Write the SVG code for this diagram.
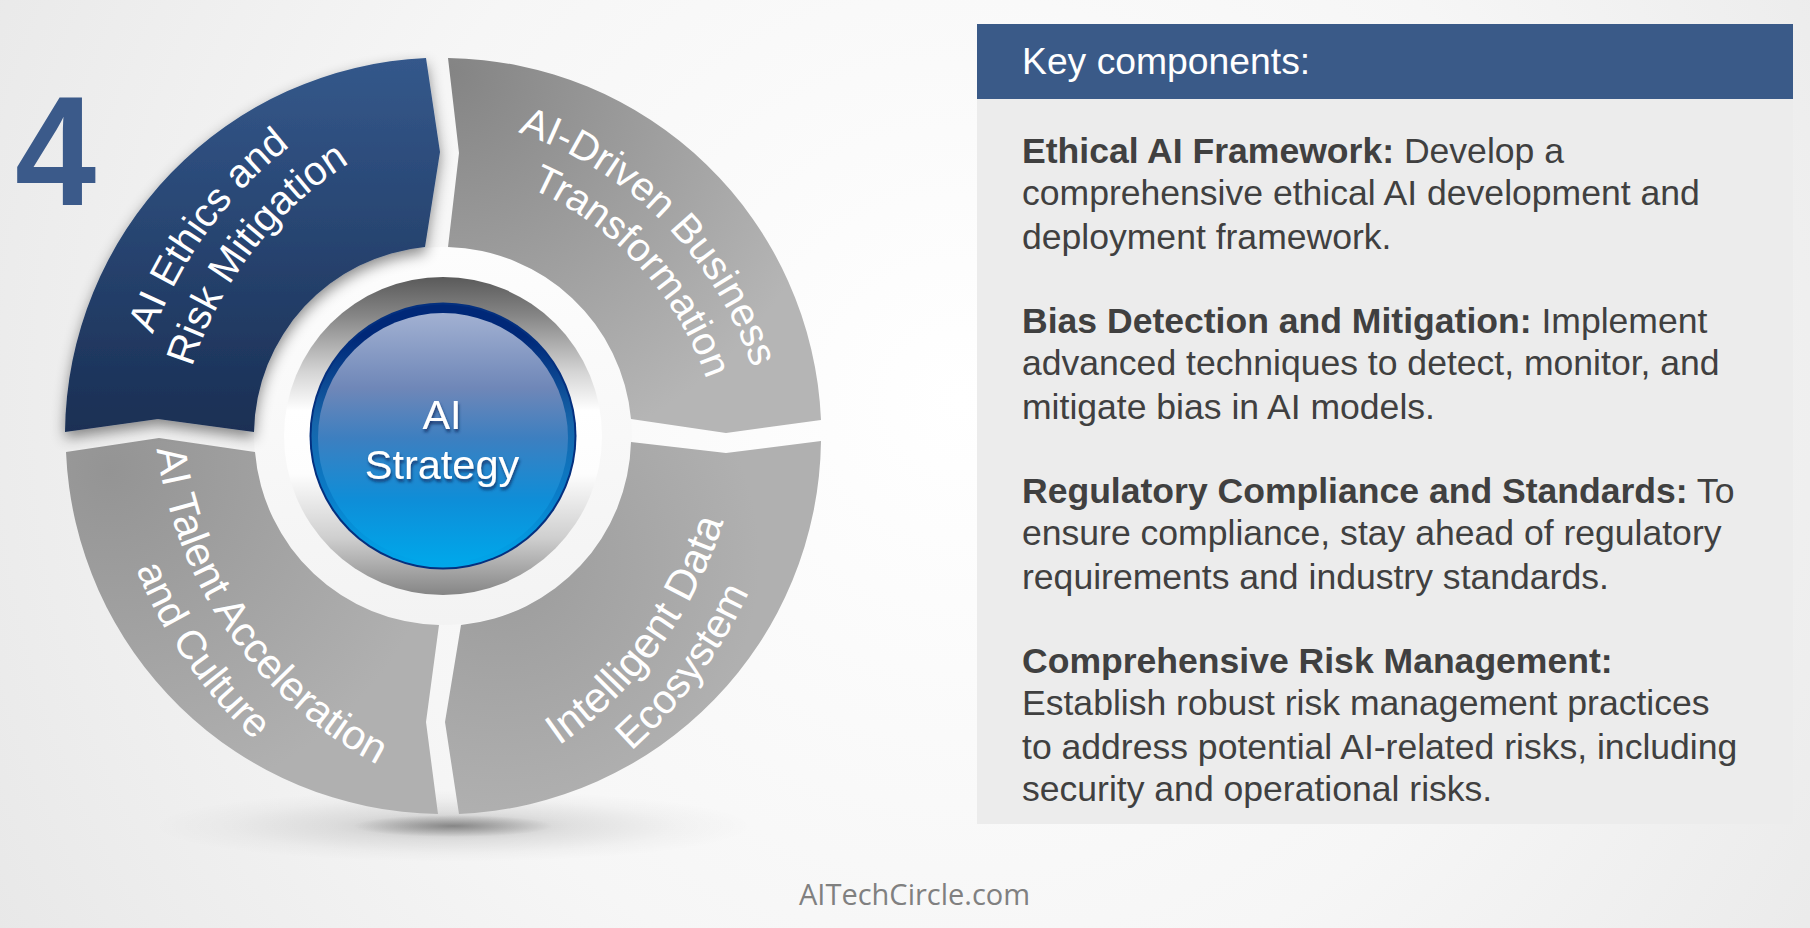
<svg xmlns="http://www.w3.org/2000/svg" width="1810" height="928" viewBox="0 0 1810 928">
<style>
.seg{font-family:"Liberation Sans",Arial,sans-serif;font-size:40px;fill:#fff;text-anchor:middle}
.body{font-family:"Liberation Sans",Arial,sans-serif;font-size:35.55px;fill:#404040}
.body .b{font-weight:700}
</style>
<defs>
<path id="p1a" d="M430.7,113.5 A375,375 0 0 1 770.4,455.6"/>
<path id="p1b" d="M440.7,162.9 A327,327 0 0 1 724.4,470.9"/>
<path id="p2a" d="M487,785.9 A428,428 0 0 0 740.4,441"/>
<path id="p2b" d="M542.6,813.2 A477,477 0 0 0 782.4,489.1"/>
<path id="p3a" d="M167.5,285.8 A418,418 0 0 0 534.5,810.6"/>
<path id="p3b" d="M109,473.6 A469,469 0 0 0 334.9,799.3"/>
<path id="p4a" d="M129,435.8 A425,425 0 0 1 379.7,92.6"/>
<path id="p4b" d="M174.9,464.2 A377,377 0 0 1 438.8,121.6"/>
<radialGradient id="bg" gradientUnits="userSpaceOnUse" cx="960" cy="400" r="1100">
<stop offset="0" stop-color="#ffffff"/><stop offset="0.55" stop-color="#f6f6f6"/><stop offset="1" stop-color="#e8e8e8"/>
</radialGradient>
<linearGradient id="blue" gradientUnits="userSpaceOnUse" x1="0" y1="58" x2="0" y2="432">
<stop offset="0" stop-color="#34588b"/><stop offset="1" stop-color="#1a2f54"/>
</linearGradient>
<radialGradient id="g1" gradientUnits="userSpaceOnUse" cx="450" cy="70" r="400">
<stop offset="0" stop-color="#848484"/><stop offset="1" stop-color="#b5b5b5"/>
</radialGradient>
<radialGradient id="g2" gradientUnits="userSpaceOnUse" cx="500" cy="560" r="260">
<stop offset="0" stop-color="#9b9b9b"/><stop offset="1" stop-color="#b0b0b0"/>
</radialGradient>
<radialGradient id="g3" gradientUnits="userSpaceOnUse" cx="110" cy="470" r="340">
<stop offset="0" stop-color="#949494"/><stop offset="1" stop-color="#b0b0b0"/>
</radialGradient>
<linearGradient id="white" gradientUnits="userSpaceOnUse" x1="0" y1="247" x2="0" y2="625">
<stop offset="0" stop-color="#fdfdfd"/><stop offset="1" stop-color="#f3f3f3"/>
</linearGradient>
<linearGradient id="metal" gradientUnits="userSpaceOnUse" x1="0" y1="277" x2="0" y2="595">
<stop offset="0" stop-color="#5a5a5a"/><stop offset="0.12" stop-color="#858585"/><stop offset="0.3" stop-color="#d5d5d5"/><stop offset="0.42" stop-color="#ffffff"/><stop offset="0.62" stop-color="#fdfdfd"/><stop offset="0.82" stop-color="#cfcfcf"/><stop offset="1" stop-color="#858585"/>
</linearGradient>
<linearGradient id="base" gradientUnits="userSpaceOnUse" x1="0" y1="302" x2="0" y2="569">
<stop offset="0" stop-color="#002878"/><stop offset="0.13" stop-color="#002878"/><stop offset="0.45" stop-color="#1665aa"/><stop offset="0.72" stop-color="#0a7cc8"/><stop offset="1" stop-color="#00a9ec"/>
</linearGradient>
<linearGradient id="ball" gradientUnits="userSpaceOnUse" x1="0" y1="313" x2="0" y2="563">
<stop offset="0" stop-color="#a2b1d2"/><stop offset="0.3" stop-color="#6f87b8"/><stop offset="0.5" stop-color="#3d7fc0"/><stop offset="0.75" stop-color="#0e8ed8"/><stop offset="1" stop-color="#00a7ea"/>
</linearGradient>
<radialGradient id="sh1"><stop offset="0" stop-color="#000" stop-opacity="0.22"/><stop offset="0.4" stop-color="#000" stop-opacity="0.09"/><stop offset="0.75" stop-color="#000" stop-opacity="0.025"/><stop offset="1" stop-color="#000" stop-opacity="0"/></radialGradient>
<radialGradient id="sh2"><stop offset="0" stop-color="#000" stop-opacity="0.3"/><stop offset="1" stop-color="#000" stop-opacity="0"/></radialGradient>
<filter id="ds" x="-20%" y="-20%" width="140%" height="140%"><feDropShadow dx="0" dy="6" stdDeviation="7" flood-color="#000" flood-opacity="0.45"/></filter>
<filter id="ts" x="-20%" y="-20%" width="140%" height="140%"><feDropShadow dx="1" dy="3" stdDeviation="1.5" flood-color="#0a2a60" flood-opacity="0.8"/></filter>
</defs>
<rect width="1810" height="928" fill="url(#bg)"/>
<ellipse cx="453" cy="826" rx="300" ry="36" fill="url(#sh1)"/>
<ellipse cx="453" cy="826" rx="100" ry="11" fill="url(#sh2)"/>
<circle cx="443" cy="436" r="189" fill="url(#white)"/>
<text transform="translate(15,205) scale(0.96,1.03)" font-family="'Liberation Sans',Arial,sans-serif" font-weight="700" font-size="152" fill="#3b5a8a">4</text>
<g id="seg-transformation">
<path d="M448,58 L459,153 L448,247 A189,189 0 0 1 631,419 L726,433 L821,420 A378,378 0 0 0 448,58 Z" fill="url(#g1)"/>
<text class="seg" style="font-size:40.5px"><textPath href="#p1a" startOffset="50%">AI-Driven Business</textPath></text>
<text class="seg"><textPath href="#p1b" startOffset="50%">Transformation</textPath></text>
</g>
<g id="seg-data">
<path d="M631,442 L726,453 L821,441 A378,378 0 0 1 459,814 L445,722 L461,625 A189,189 0 0 0 631,442 Z" fill="url(#g2)"/>
<text class="seg" style="font-size:42.5px"><textPath href="#p2a" startOffset="50%">Intelligent Data</textPath></text>
<text class="seg" style="font-size:40.8px"><textPath href="#p2b" startOffset="50%">Ecosystem</textPath></text>
</g>
<g id="seg-talent">
<path d="M66,452 L159,438 L255,452 A189,189 0 0 0 439,625 L426,722 L438,814 A378,378 0 0 1 66,452 Z" fill="url(#g3)"/>
<text class="seg" style="font-size:41.7px"><textPath href="#p3a" startOffset="50%">AI Talent Acceleration</textPath></text>
<text class="seg" style="font-size:40.7px"><textPath href="#p3b" startOffset="50%">and Culture</textPath></text>
</g>
<g id="seg-ethics">
<path d="M426,58 L440,152 L425,247 A189,189 0 0 0 254,432 L158,419 L65,432 A378,378 0 0 1 426,58 Z" fill="url(#blue)" filter="url(#ds)"/>
<text class="seg"><textPath href="#p4a" startOffset="50%">AI Ethics and</textPath></text>
<text class="seg" style="font-size:40.5px"><textPath href="#p4b" startOffset="50%">Risk Mitigation</textPath></text>
</g>
<g id="hub">
<circle cx="443" cy="436" r="159" fill="url(#metal)"/>
<circle cx="443" cy="436" r="133.5" fill="#04307f"/>
<circle cx="443" cy="436" r="131.5" fill="url(#base)"/>
<circle cx="443" cy="438" r="125" fill="url(#ball)"/>
<g filter="url(#ts)" font-family="'Liberation Sans',Arial,sans-serif" font-size="41.5" fill="#fff" text-anchor="middle">
<text x="442" y="429">AI</text>
<text x="442" y="479">Strategy</text>
</g>
</g>
<g id="panel">
<rect x="977" y="24" width="816" height="800" fill="#ececec"/>
<rect x="977" y="24" width="816" height="75" fill="#3a5a88"/>
<text x="1022" y="74" font-family="'Liberation Sans',Arial,sans-serif" font-size="37.3" fill="#fff">Key components:</text>
<text class="body">
<tspan x="1022" y="163"><tspan class="b">Ethical AI Framework:</tspan> Develop a</tspan>
<tspan x="1022" y="205">comprehensive ethical AI development and</tspan>
<tspan x="1022" y="249">deployment framework.</tspan>
<tspan x="1022" y="333"><tspan class="b">Bias Detection and Mitigation:</tspan> Implement</tspan>
<tspan x="1022" y="375">advanced techniques to detect, monitor, and</tspan>
<tspan x="1022" y="419">mitigate bias in AI models.</tspan>
<tspan x="1022" y="503"><tspan class="b">Regulatory Compliance and Standards:</tspan> To</tspan>
<tspan x="1022" y="545">ensure compliance, stay ahead of regulatory</tspan>
<tspan x="1022" y="589">requirements and industry standards.</tspan>
<tspan x="1022" y="673" class="b">Comprehensive Risk Management:</tspan>
<tspan x="1022" y="715">Establish robust risk management practices</tspan>
<tspan x="1022" y="759">to address potential AI-related risks, including</tspan>
<tspan x="1022" y="801">security and operational risks.</tspan>
</text>
</g>
<text x="799" y="905" font-family="'Open Sans',sans-serif" font-size="29" fill="#808080">AITechCircle.com</text>
</svg>
